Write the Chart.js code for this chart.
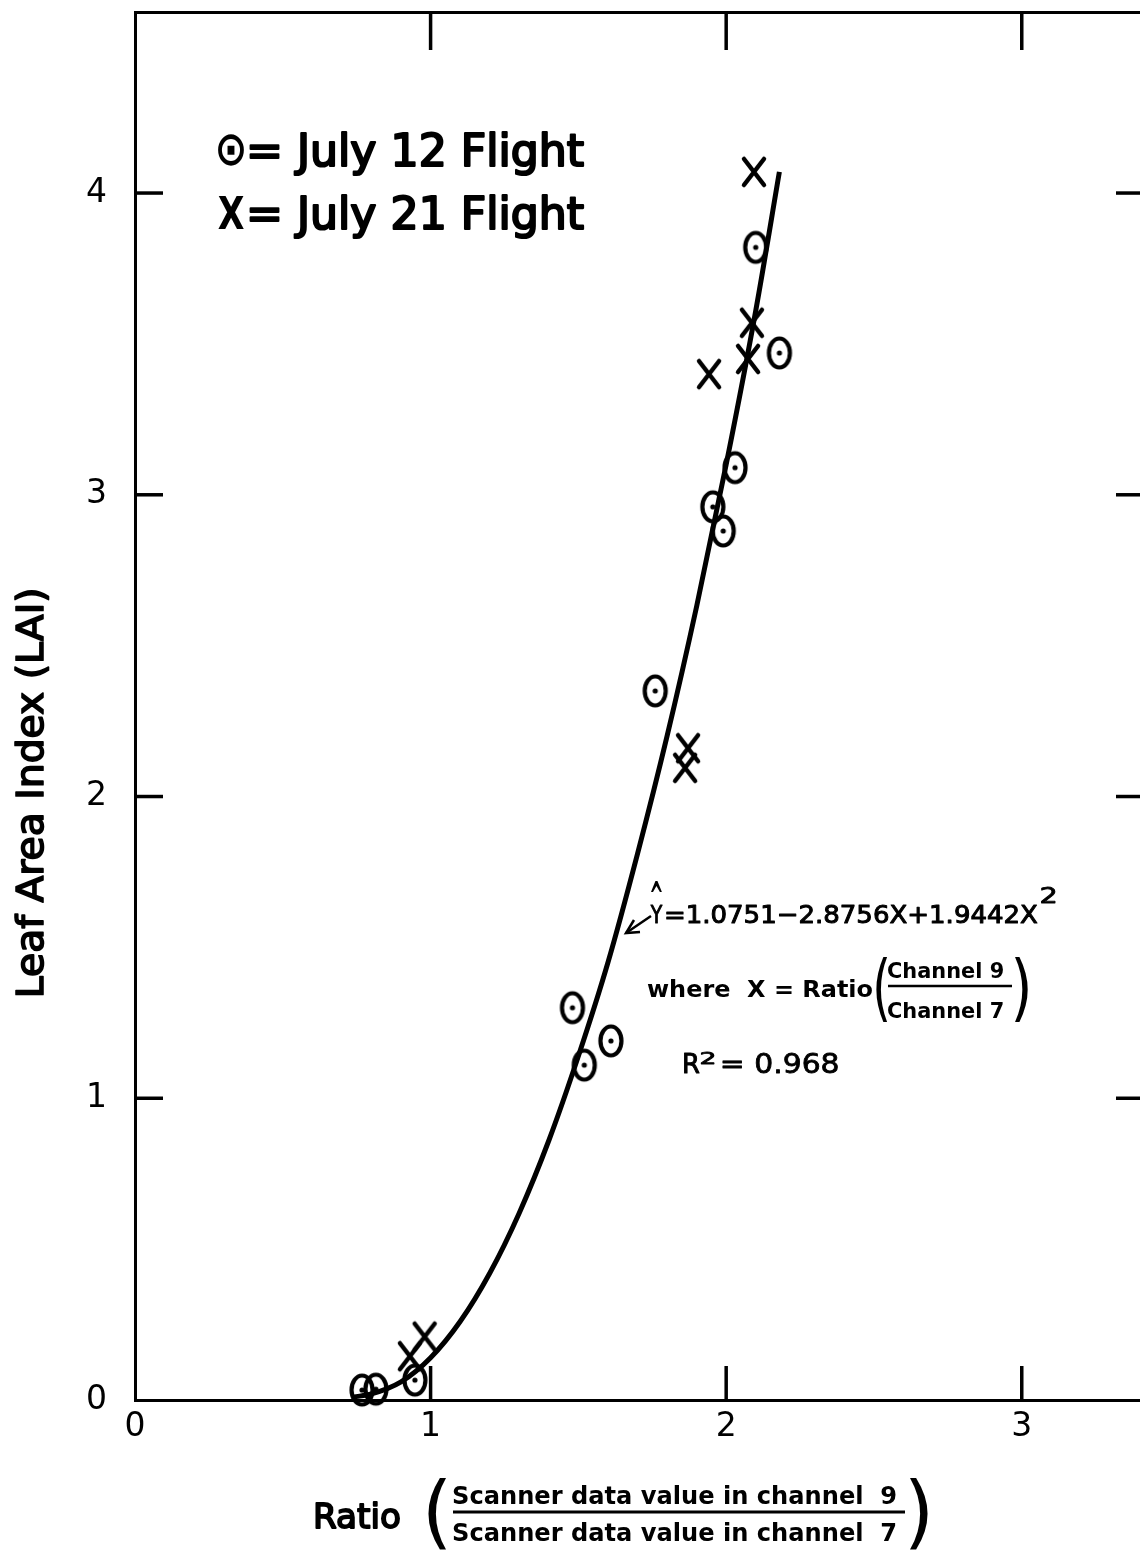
<!DOCTYPE html>
<html><head><meta charset="utf-8">
<script src="https://cdn.jsdelivr.net/npm/chart.js@4"></script>
<style>html,body{margin:0;padding:0;background:#fff;}canvas{display:block}</style>
</head><body>
<canvas id="c" width="1140" height="1551" style="width:1140px;height:1551px"></canvas>
<script>
// ---- data ----
const xTickValues = [0, 1, 2, 3];
const yTickValues = [0, 1, 2, 3, 4];
const innerXTicks = [1, 2, 3];
const innerYTicks = [1, 2, 3, 4];

const july12X = [2.10, 2.18, 2.03, 1.955, 1.99, 1.76, 1.48, 1.61, 1.52, 0.947, 0.768, 0.815];
const july12Y = [3.82, 3.47, 3.09, 2.96, 2.88, 2.35, 1.30, 1.19, 1.11, 0.066, 0.033, 0.036];

const july21X = [2.094, 2.087, 2.074, 1.942, 1.871, 1.861, 0.93, 0.98];
const july21Y = [4.07, 3.57, 3.45, 3.40, 2.16, 2.095, 0.145, 0.21];

const curveX = [0.74, 0.80, 0.90, 1.00, 1.10, 1.20, 1.30, 1.40, 1.50, 1.60, 1.70, 1.80, 1.90, 2.00, 2.10, 2.18];
const curveY = [0.01, 0.02, 0.06, 0.14, 0.26, 0.42, 0.62, 0.86, 1.14, 1.45, 1.81, 2.20, 2.63, 3.10, 3.61, 4.07];

const legendSymbols = ["\u2299", "X"];
const legendTexts = ["= July 12 Flight", "= July 21 Flight"];
const yTitle = "Leaf Area Index (LAI)";
const xTitleWord = "Ratio";
const xTitleNum = "Scanner data value in channel  9";
const xTitleDen = "Scanner data value in channel  7";
const eqY = "Y";
const eqHat = "^";
const eqText = "=1.0751\u22122.8756X+1.9442X";
const eqSup = "2";
const whereText = "where  X = Ratio";
const chanNum = "Channel 9";
const chanDen = "Channel 7";
const r2Text = "= 0.968";

// ---- helpers ----
const FAM = "'DejaVu Sans', 'Liberation Sans', sans-serif";
const zip = (xs, ys) => xs.map((x, i) => ({x, y: ys[i]}));

function circleMarker() {
  const c = document.createElement('canvas'); c.width = 32; c.height = 38;
  const g = c.getContext('2d');
  g.strokeStyle = '#000'; g.lineWidth = 4.2;
  g.beginPath(); g.ellipse(16, 19, 10.5, 14.5, 0, 0, Math.PI * 2); g.stroke();
  g.fillStyle = '#000'; g.beginPath(); g.arc(16, 19, 2.6, 0, Math.PI * 2); g.fill();
  return c;
}
function crossMarker() {
  const c = document.createElement('canvas'); c.width = 28; c.height = 34;
  const g = c.getContext('2d');
  g.strokeStyle = '#000'; g.lineWidth = 4.5; g.lineCap = 'round';
  g.beginPath(); g.moveTo(4, 4); g.lineTo(24, 30); g.moveTo(24, 4); g.lineTo(4, 30); g.stroke();
  return c;
}

function fitText(ctx, text, x0, x1, baseline, capH, weight, stroke) {
  ctx.save();
  ctx.font = `${weight} 100px ${FAM}`;
  const capRatio = ctx.measureText('H').actualBoundingBoxAscent / 100;
  const size = capH / capRatio;
  ctx.font = `${weight} ${size}px ${FAM}`;
  ctx.textAlign = 'left'; ctx.textBaseline = 'alphabetic';
  const m = ctx.measureText(text);
  const l = -m.actualBoundingBoxLeft, r = m.actualBoundingBoxRight;
  const sx = (x1 - x0) / (r - l);
  ctx.translate(x0 - l * sx, baseline);
  ctx.scale(sx, 1);
  ctx.fillStyle = '#000';
  ctx.fillText(text, 0, 0);
  if (stroke) { ctx.strokeStyle = '#000'; ctx.lineWidth = stroke; ctx.lineJoin = 'round'; ctx.strokeText(text, 0, 0); }
  ctx.restore();
}
function boxText(ctx, text, x0, x1, top, bottom, weight) {
  ctx.save();
  ctx.font = `${weight} 100px ${FAM}`;
  ctx.textAlign = 'left'; ctx.textBaseline = 'alphabetic';
  const m = ctx.measureText(text);
  const l = -m.actualBoundingBoxLeft, r = m.actualBoundingBoxRight;
  const a = m.actualBoundingBoxAscent, d = m.actualBoundingBoxDescent;
  const sx = (x1 - x0) / (r - l), sy = (bottom - top) / (a + d);
  ctx.translate(x0 - l * sx, top + a * sy);
  ctx.scale(sx, sy);
  ctx.fillStyle = '#000';
  ctx.fillText(text, 0, 0);
  ctx.restore();
}
function noPad(s) { s.paddingLeft = 0; s.paddingRight = 0; s.paddingTop = 0; s.paddingBottom = 0; }

const decor = {
  id: 'decor',
  afterDraw(chart) {
    const ctx = chart.ctx;
    const xs = chart.scales.x, ys = chart.scales.y;
    const a = chart.chartArea;
    ctx.save();
    ctx.strokeStyle = '#000'; ctx.lineCap = 'butt';
    ctx.lineWidth = 3.5;
    innerXTicks.forEach(v => {
      const px = xs.getPixelForValue(v);
      ctx.beginPath(); ctx.moveTo(px, a.top); ctx.lineTo(px, a.top + 38); ctx.stroke();
      ctx.beginPath(); ctx.moveTo(px, a.bottom); ctx.lineTo(px, a.bottom - 34); ctx.stroke();
    });
    innerYTicks.forEach(v => {
      const py = ys.getPixelForValue(v);
      ctx.beginPath(); ctx.moveTo(a.left, py); ctx.lineTo(a.left + 28, py); ctx.stroke();
      ctx.beginPath(); ctx.moveTo(a.right, py); ctx.lineTo(a.right - 24, py); ctx.stroke();
    });

    // legend
    boxText(ctx, legendSymbols[0], 218, 244, 134, 166, 'bold');
    fitText(ctx, legendTexts[0], 250, 584, 166, 32, 'normal', 2.2);
    boxText(ctx, legendSymbols[1], 218, 244, 197, 229, 'bold');
    fitText(ctx, legendTexts[1], 250, 584, 229, 32, 'normal', 2.2);

    // y title (rotated)
    ctx.save();
    ctx.translate(43, 995);
    ctx.rotate(-Math.PI / 2);
    fitText(ctx, yTitle, 0, 405, 0, 27, 'normal', 1.6);
    ctx.restore();

    // x title
    fitText(ctx, xTitleWord, 316, 400, 1528, 25, 'normal', 1.8);
    boxText(ctx, '(', 428, 446, 1478, 1550, 'normal');
    fitText(ctx, xTitleNum, 453, 896, 1504, 18, 'bold');
    ctx.lineWidth = 3;
    ctx.beginPath(); ctx.moveTo(453, 1512); ctx.lineTo(905, 1512); ctx.stroke();
    fitText(ctx, xTitleDen, 453, 896, 1541, 18, 'bold');
    boxText(ctx, ')', 910, 928, 1478, 1550, 'normal');

    // equation annotation
    ctx.lineWidth = 2.5;
    ctx.beginPath(); ctx.moveTo(651, 916); ctx.lineTo(626, 933); ctx.stroke();
    ctx.beginPath(); ctx.moveTo(634, 920); ctx.lineTo(626, 933); ctx.lineTo(640, 932); ctx.stroke();
    fitText(ctx, eqY, 650, 663, 923, 18, 'normal', 1);
    boxText(ctx, eqHat, 651, 662, 881, 892, 'bold');
    fitText(ctx, eqText, 666, 1038, 923, 18, 'normal', 1);
    fitText(ctx, eqSup, 1041, 1055, 903, 15, 'normal', 0.8);
    fitText(ctx, whereText, 647, 872, 997, 17, 'bold');
    boxText(ctx, '(', 876, 887, 957, 1022, 'normal');
    fitText(ctx, chanNum, 888, 1003, 978, 16, 'bold');
    ctx.lineWidth = 2.5;
    ctx.beginPath(); ctx.moveTo(888, 986); ctx.lineTo(1012, 986); ctx.stroke();
    fitText(ctx, chanDen, 888, 1003, 1018, 16, 'bold');
    boxText(ctx, ')', 1015, 1028, 957, 1022, 'normal');
    fitText(ctx, 'R', 684, 700, 1073, 20, 'normal', 1);
    fitText(ctx, '2', 701, 714, 1064, 12, 'normal', 0.8);
    fitText(ctx, r2Text, 722, 838, 1073, 20, 'normal', 0.8);
    ctx.restore();
  }
};

const chart = new Chart(document.getElementById('c'), {
  type: 'scatter',
  data: {
    datasets: [
      {
        label: 'Fitted curve',
        data: zip(curveX, curveY),
        showLine: true,
        borderColor: '#000',
        borderWidth: 5,
        pointRadius: 0,
        cubicInterpolationMode: 'monotone',
        clip: false,
        order: 2
      },
      {
        label: 'July 12 Flight',
        data: zip(july12X, july12Y),
        pointStyle: circleMarker(),
        pointRadius: 10,
        showLine: false,
        clip: false,
        order: 1
      },
      {
        label: 'July 21 Flight',
        data: zip(july21X, july21Y),
        pointStyle: crossMarker(),
        pointRadius: 10,
        showLine: false,
        clip: false,
        order: 1
      }
    ]
  },
  options: {
    responsive: false,
    animation: false,
    devicePixelRatio: 1,
    layout: { padding: 0, autoPadding: false },
    plugins: { legend: { display: false }, tooltip: { enabled: false } },
    scales: {
      x: {
        type: 'linear', position: 'bottom', min: 0, max: 3.4,
        afterBuildTicks: s => { s.ticks = xTickValues.map(v => ({value: v})); },
        ticks: { color: '#000', font: { family: FAM, size: 33 }, padding: 0, maxRotation: 0, callback: v => String(v) },
        grid: { display: false },
        border: { display: true, color: '#000', width: 3 },
        afterFit: s => { s.height = 151; noPad(s); }
      },
      x2: {
        type: 'linear', position: 'top', min: 0, max: 3.4,
        ticks: { display: false },
        grid: { display: false },
        border: { display: true, color: '#000', width: 3 },
        afterFit: s => { s.height = 12; noPad(s); }
      },
      y: {
        type: 'linear', position: 'left', min: 0, max: 4.6,
        afterBuildTicks: s => { s.ticks = yTickValues.map(v => ({value: v})); },
        ticks: { color: '#000', font: { family: FAM, size: 33 }, padding: 20, callback: v => String(v) },
        grid: { display: false },
        border: { display: true, color: '#000', width: 3 },
        afterFit: s => { s.width = 135; noPad(s); }
      }
    }
  },
  plugins: [decor]
});
</script>
</body></html>
